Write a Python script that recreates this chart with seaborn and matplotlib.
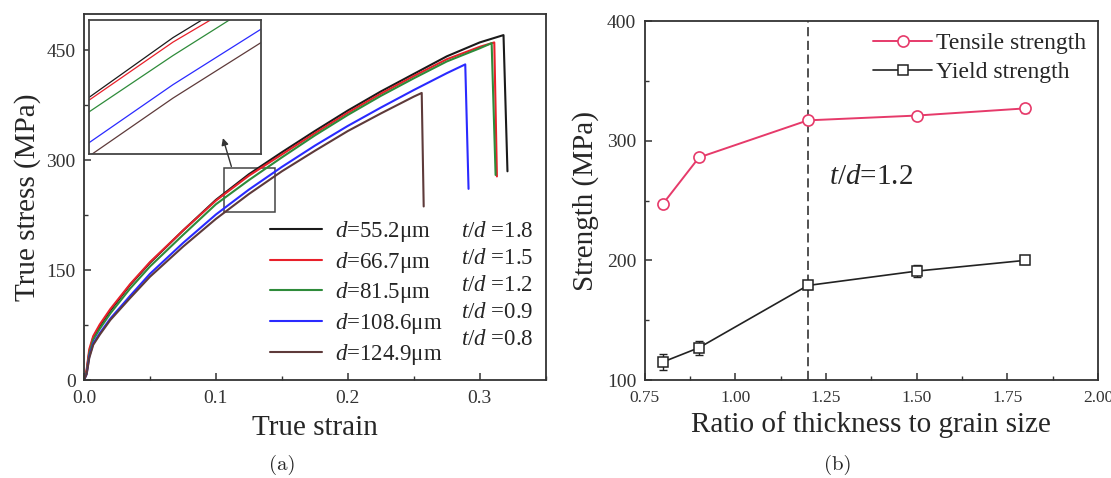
import numpy as np
import pandas as pd
import matplotlib
matplotlib.use("Agg")
import matplotlib.pyplot as plt
from matplotlib.lines import Line2D
from matplotlib.patches import Rectangle
from matplotlib.ticker import MultipleLocator
import seaborn as sns

# ---- (a) true stress / true strain curves ----
strain_55 = [0, 0.002, 0.004, 0.007, 0.012, 0.02, 0.035, 0.05, 0.075, 0.1, 0.125, 0.15,
             0.175, 0.2, 0.225, 0.25, 0.275, 0.3, 0.318, 0.321]
stress_55 = [0, 12, 38, 58, 74, 95, 130, 160, 204, 246, 281, 311, 340, 368, 394, 418, 442, 461, 471, 285]

strain_66 = [0, 0.002, 0.004, 0.007, 0.012, 0.02, 0.035, 0.05, 0.075, 0.1, 0.125, 0.15,
             0.175, 0.2, 0.225, 0.25, 0.275, 0.3, 0.311, 0.313]
stress_66 = [0, 14, 42, 60, 76, 97, 131, 161, 204, 245, 279, 308, 337, 365, 391, 415, 438, 455, 461, 278]

strain_81 = [0, 0.002, 0.004, 0.007, 0.012, 0.02, 0.035, 0.05, 0.075, 0.1, 0.125, 0.15,
             0.175, 0.2, 0.225, 0.25, 0.275, 0.3, 0.309, 0.312]
stress_81 = [0, 10, 36, 55, 70, 91, 125, 155, 198, 240, 273, 304, 334, 362, 388, 412, 435, 453, 460, 280]

strain_108 = [0, 0.002, 0.004, 0.007, 0.012, 0.02, 0.035, 0.05, 0.075, 0.1, 0.125, 0.15,
              0.175, 0.2, 0.225, 0.25, 0.275, 0.289, 0.2915]
stress_108 = [0, 8, 32, 50, 64, 84, 115, 145, 187, 226, 260, 291, 320, 347, 372, 396, 419, 431, 261]

strain_124 = [0, 0.002, 0.004, 0.007, 0.012, 0.02, 0.035, 0.05, 0.075, 0.1, 0.125, 0.15,
              0.175, 0.2, 0.225, 0.25, 0.256, 0.2575]
stress_124 = [0, 8, 30, 48, 62, 82, 112, 141, 182, 220, 254, 285, 313, 340, 364, 387, 392, 237]

grain_sizes = ["55.2", "66.7", "81.5", "108.6", "124.9"]
td_ratios = ["1.8", "1.5", "1.2", "0.9", "0.8"]
curve_colors = ["#1a1a1a", "#e8202a", "#2e8b3a", "#2a2aff", "#5e3a3a"]

# ---- (b) strength vs t/d ----
ratio = [0.8, 0.9, 1.2, 1.5, 1.8]
tensile = [247, 286, 317, 321, 327]
tensile_err = [3, 3, 3, 2, 4]
yield_str = [115, 127, 179, 191, 200]
yield_err = [7, 6, 3, 5, 3]

sns.set_theme(style="ticks")
plt.rcParams["font.family"] = ["Liberation Serif", "DejaVu Serif"]
plt.rcParams["mathtext.fontset"] = "custom"
plt.rcParams["mathtext.rm"] = "Liberation Serif"
plt.rcParams["mathtext.it"] = "Liberation Serif:italic"
plt.rcParams["axes.edgecolor"] = "#333333"
plt.rcParams["axes.linewidth"] = 1.3

curves = pd.concat([
    pd.DataFrame({"strain": sx, "stress": sy, "d": g})
    for sx, sy, g in zip([strain_55, strain_66, strain_81, strain_108, strain_124],
                         [stress_55, stress_66, stress_81, stress_108, stress_124],
                         grain_sizes)
], ignore_index=True)
palette = dict(zip(grain_sizes, curve_colors))

fig = plt.figure(figsize=(11.11, 4.78), dpi=100)
ax1 = fig.add_axes([0.0756, 0.205, 0.4156, 0.766])
ax2 = fig.add_axes([0.5802, 0.205, 0.408, 0.751])

# panel (a)
sns.lineplot(data=curves, x="strain", y="stress", hue="d", palette=palette, sort=False,
             estimator=None, legend=False, lw=1.5, ax=ax1)
ax1.set_xlim(0, 0.35)
ax1.set_ylim(0, 500)
ax1.set_xticks([0.0, 0.1, 0.2, 0.3])
ax1.set_yticks([0, 150, 300, 450])
ax1.xaxis.set_minor_locator(MultipleLocator(0.05))
ax1.yaxis.set_minor_locator(MultipleLocator(75))
ax1.set_xlabel("True strain", fontsize=21, labelpad=6)
ax1.set_ylabel("True stress (MPa)", fontsize=21, labelpad=4)

# zoom box + inset
box_x = (0.106, 0.145)
box_y = (229, 289)
ax1.add_patch(Rectangle((box_x[0], box_y[0]), box_x[1] - box_x[0], box_y[1] - box_y[0],
                        fill=False, ec="#444444", lw=1.1))
ins = ax1.inset_axes([0.0115, 0.617, 0.372, 0.367])
sns.lineplot(data=curves, x="strain", y="stress", hue="d", palette=palette, sort=False,
             estimator=None, legend=False, lw=0.9, ax=ins)
ins.set_xlim(*box_x)
ins.set_ylim(*box_y)
ins.set_xticks([])
ins.set_yticks([])
ins.set_xlabel("")
ins.set_ylabel("")
for s in ins.spines.values():
    s.set_linewidth(1.3)
    s.set_color("#444444")
ins.annotate("", xy=(0.1047, 334), xycoords=ax1.transData, xytext=(0.1123, 288),
             textcoords=ax1.transData, annotation_clip=False,
             arrowprops=dict(arrowstyle="-|>", color="#333333", lw=1, mutation_scale=10))

handles = [Line2D([], [], color=c, lw=1.5) for c in curve_colors]
handles += [Line2D([], [], color="none") for _ in curve_colors]
labels = [f"$d$=" + g + "μm" for g in grain_sizes] + [f"$t/d$ =" + t for t in td_ratios]
ax1.legend(handles, labels, ncol=2, frameon=False, loc="lower right", fontsize=16.5,
           handlelength=2.26, handletextpad=0.55, columnspacing=-2.0, labelspacing=0.26,
           borderaxespad=0.35, borderpad=0.2)

# panel (b)
ax2.axvline(1.2, color="#222222", lw=1.1, ls=(0, (6, 3)))
ax2.errorbar(ratio, tensile, yerr=tensile_err, fmt="none", ecolor="#e63a6a", elinewidth=1,
             capsize=3, zorder=2)
ax2.errorbar(ratio, yield_str, yerr=yield_err, fmt="none", ecolor="#222222", elinewidth=1,
             capsize=3, zorder=2)
sns.lineplot(x=ratio, y=tensile, color="#e63a6a", marker="o", markersize=8, mfc="white",
             mec="#e63a6a", mew=1.2, lw=1.4, label="Tensile strength", ax=ax2)
sns.lineplot(x=ratio, y=yield_str, color="#222222", marker="s", markersize=7, mfc="white",
             mec="#222222", mew=1.1, lw=1.2, label="Yield strength", ax=ax2)
ax2.set_xlim(0.75, 2.0)
ax2.set_ylim(100, 400)
ax2.set_xticks([0.75, 1.0, 1.25, 1.5, 1.75, 2.0])
ax2.set_xticklabels(["0.75", "1.00", "1.25", "1.50", "1.75", "2.00"])
ax2.set_yticks([100, 200, 300, 400])
ax2.xaxis.set_minor_locator(MultipleLocator(0.125))
ax2.yaxis.set_minor_locator(MultipleLocator(50))
ax2.set_xlabel("Ratio of thickness to grain size", fontsize=21, labelpad=4)
ax2.set_ylabel("Strength (MPa)", fontsize=21, labelpad=6)
ax2.text(1.258, 270, "$t/d$=1.2", fontsize=21, va="center", ha="left")
ax2.legend(loc="upper right", frameon=False, fontsize=17, handlelength=2.5,
           handletextpad=0.15, labelspacing=0.3, borderaxespad=0.1)

for ax in (ax1, ax2):
    ax.tick_params(which="both", direction="in", labelsize=14, labelcolor="#333333",
                   color="#333333")
    ax.tick_params(which="major", length=5, width=1.1)
    ax.tick_params(which="minor", length=3, width=1)
    ax.tick_params(axis="x", pad=7)
    ax.tick_params(axis="y", pad=6)
ax2.tick_params(axis="x", labelsize=12.5)

fig.text(282 / 1111, 0.028, "(a)", fontfamily="cmr10", fontsize=15, ha="center", va="center")
fig.text(838 / 1111, 0.028, "(b)", fontfamily="cmr10", fontsize=15, ha="center", va="center")

fig.savefig("out.png", dpi=100)
